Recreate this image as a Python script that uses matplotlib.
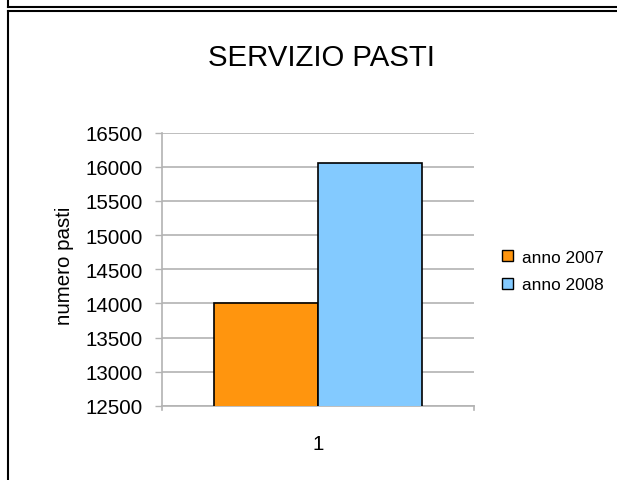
import matplotlib
matplotlib.use("Agg")
import matplotlib.pyplot as plt
from matplotlib.patches import Patch
from matplotlib.lines import Line2D

plt.rcParams['font.family'] = ['Liberation Sans', 'DejaVu Sans']

# data
categories = ["1"]
series_names = ["anno 2007", "anno 2008"]
series_values = [[14000], [16050]]
series_colors = ["#ff950e", "#83caff"]
y_ticks = [12500, 13000, 13500, 14000, 14500, 15000, 15500, 16000, 16500]
title = "SERVIZIO PASTI"
y_label = "numero pasti"

W, H = 617, 481
fig = plt.figure(figsize=(W / 100, H / 100), dpi=100)
fig.patch.set_facecolor("white")

ax = fig.add_axes([162 / W, 1 - 407 / H, 312 / W, 273.5 / H])

n = len(series_values)
bw = 1.0 / 3
for i, (vals, col, name) in enumerate(zip(series_values, series_colors, series_names)):
    xs = [c - bw * n / 2 + bw * (i + 0.5) for c in range(len(categories))]
    ax.bar(xs, vals, width=bw, color=col, edgecolor="black", linewidth=1.2,
           label=name, zorder=3)

ax.set_xlim(-0.5, len(categories) - 0.5)
ax.set_ylim(y_ticks[0], y_ticks[-1])
ax.set_yticks(y_ticks)
ax.set_yticklabels([str(t) for t in y_ticks], fontsize=14.8)
ax.set_xticks(range(len(categories)))
ax.set_xticklabels(categories, fontsize=14.8)
ax.tick_params(axis="x", length=0, pad=20)
ax.tick_params(axis="y", direction="out", length=5, width=1, color="#b3b3b3", pad=9)

ax.yaxis.grid(True, color="#b3b3b3", linewidth=1.2, zorder=0)
ax.set_axisbelow(True)
for s in ["top", "right"]:
    ax.spines[s].set_visible(False)
for s in ["left", "bottom"]:
    ax.spines[s].set_color("#b3b3b3")
    ax.spines[s].set_linewidth(1.2)

# category boundary ticks on the x axis
for xb in [-0.5, len(categories) - 0.5]:
    ax.plot([xb, xb], [0, -0.015], transform=ax.get_xaxis_transform(),
            color="#b3b3b3", linewidth=1.2, clip_on=False)

fig.text(64 / W, 1 - 265.5 / H, y_label, rotation=90, ha="center", va="center",
         fontsize=14.8)
fig.text(321 / W, 1 - 65.5 / H, title, ha="center", va="baseline", fontsize=21.2)

handles = [Patch(facecolor=c, edgecolor="black", linewidth=1) for c in series_colors]
fig.legend(handles, series_names, loc="center left",
           bbox_to_anchor=(502 / W, 1 - 272 / H), frameon=False,
           fontsize=12.4, handlelength=0.65, handleheight=0.65,
           handletextpad=0.5, labelspacing=0.75, borderpad=0, borderaxespad=0)

# surrounding frame lines
def fl(x0, y0, x1, y1, lw=1.5, color="black"):
    fig.add_artist(Line2D([x0 / W, x1 / W], [1 - y0 / H, 1 - y1 / H],
                          color=color, linewidth=lw))

fl(8, 0, 8, 8)
fl(8, 8, W, 8)
fl(8, 11.5, W, 11.5)
fl(8, 11.5, 8, H)

fig.savefig("out.png", dpi=100)
